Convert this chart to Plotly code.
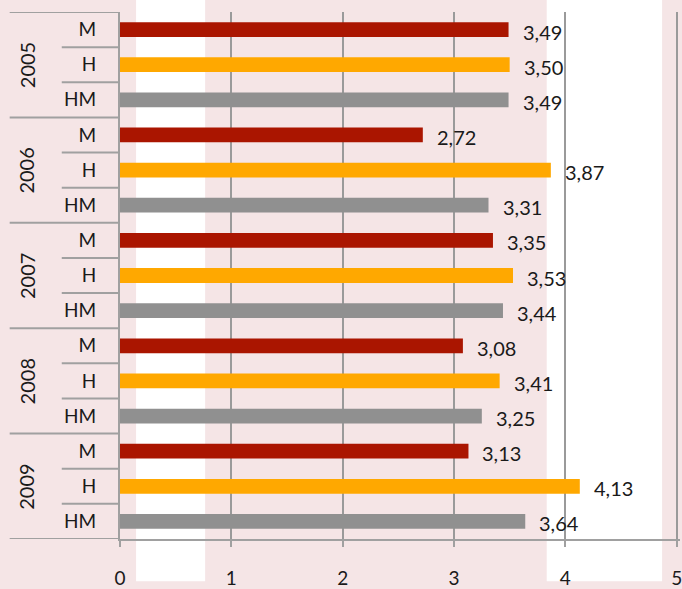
import plotly.graph_objects as go

years = ["2005", "2006", "2007", "2008", "2009"]
groups = ["M", "H", "HM"]
values_m = [3.49, 2.72, 3.35, 3.08, 3.13]
values_h = [3.50, 3.87, 3.53, 3.41, 4.13]
values_hm = [3.49, 3.31, 3.44, 3.25, 3.64]
x_ticks = [0, 1, 2, 3, 4, 5]

_COLORS = {"M": "#aa1500", "H": "#ffa800", "HM": "#909090"}
_FONT = "Lato, 'Open Sans', sans-serif"

series = {"M": values_m, "H": values_h, "HM": values_hm}
categories = [f"{yr} {g}" for yr in years for g in groups]

fig = go.Figure()
for g in groups:
    fig.add_trace(go.Bar(
        x=series[g],
        y=[f"{yr} {g}" for yr in years],
        orientation="h",
        marker_color=_COLORS[g],
        marker_line_width=0,
        width=0.42,
        showlegend=False,
    ))

# value labels, comma decimal
for g in groups:
    for yr, v in zip(years, series[g]):
        fig.add_annotation(
            x=v, y=f"{yr} {g}", text=f"{v:.2f}".replace(".", ","),
            xanchor="left", xshift=12, yshift=-2, showarrow=False,
            font={"size": 20, "color": "#1a1a1a", "family": _FONT},
        )

# year labels, rotated
for yr in years:
    fig.add_annotation(
        x=-0.167, xref="paper", xanchor="center", y=f"{yr} H", text=yr,
        textangle=-90, showarrow=False,
        font={"size": 20, "color": "#1a1a1a", "family": _FONT},
    )

shapes = []
# white background bands
for x0, x1 in [(0.0287, 0.152), (0.762, 0.968)]:
    shapes.append(dict(type="rect", xref="paper", yref="paper", x0=x0, x1=x1,
                       y0=-0.08, y1=1.03, fillcolor="white", line_width=0, layer="below"))
# category dividers on the left
for i in range(len(categories) + 1):
    outer = i % 3 == 0
    shapes.append(dict(type="line", xref="paper", yref="y",
                       x0=-0.197 if outer else -0.104, x1=0,
                       y0=i - 0.5, y1=i - 0.5,
                       line={"color": "#a0a0a0", "width": 2}))

fig.update_layout(
    width=682,
    height=589,
    margin={"l": 120, "r": 0, "t": 12, "b": 37},
    paper_bgcolor="#f5e5e6",
    plot_bgcolor="rgba(0,0,0,0)",
    bargap=0.58,
    shapes=shapes,
    font={"family": _FONT, "color": "#1a1a1a"},
    xaxis={
        "range": [0, 5.03],
        "tickvals": x_ticks,
        "showgrid": True,
        "gridcolor": "#9a9a9a",
        "gridwidth": 1.5,
        "zeroline": False,
        "showline": True,
        "linecolor": "#a0a0a0",
        "linewidth": 2,
        "ticks": "outside",
        "ticklen": 6,
        "tickcolor": "#a0a0a0",
        "tickwidth": 2,
        "ticklabelstandoff": 15,
        "ticklabeloverflow": "allow",
        "tickfont": {"size": 19},
    },
    yaxis={
        "type": "category",
        "categoryorder": "array",
        "categoryarray": categories,
        "range": [len(categories) - 0.5, -0.5],
        "tickvals": categories,
        "ticktext": [c.split(" ")[1] for c in categories],
        "showline": True,
        "linecolor": "#a0a0a0",
        "linewidth": 2,
        "showgrid": False,
        "ticks": "",
        "ticklabelstandoff": 18,
        "tickfont": {"size": 19},
    },
)

fig.write_html(
    "out.html",
    config={"displayModeBar": False},
    post_script="document.body.style.margin='0';",
)
